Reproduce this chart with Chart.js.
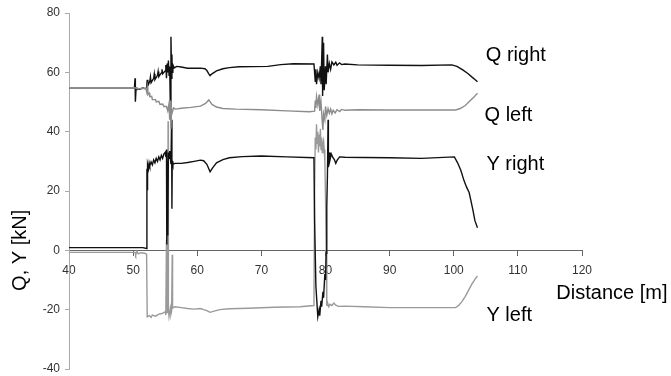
<!DOCTYPE html>
<html>
<head>
<meta charset="utf-8">
<script src="https://cdn.jsdelivr.net/npm/chart.js@4.4.1/dist/chart.umd.min.js"></script>
<style>
  html, body { margin: 0; padding: 0; background: #fff; }
  #wrap { width: 671px; height: 376px; }
</style>
</head>
<body>
<div id="wrap"><canvas id="myChart"></canvas></div>
<script>
// Distance [m] and force [kN]
var qRightX = [40, 50.2, 50.3, 50.35, 50.45, 50.6, 51.0, 51.5, 52.0, 52.1, 52.2, 52.3, 52.6, 52.7, 52.8, 53.2, 53.3, 53.4, 53.8, 53.9, 54.0, 54.4, 54.5, 54.6, 55.0, 55.1, 55.2, 55.3, 55.4, 55.5, 55.6, 55.7, 55.8, 55.9, 56.0, 56.05, 56.1, 56.2, 56.4, 56.8, 57.5, 58.5, 60.5, 61.2, 61.5, 61.8, 62.0, 62.3, 63.0, 64.0, 65.0, 66.5, 71.0, 73.0, 75.0, 78.2, 78.4, 78.5, 78.6, 78.8, 79.0, 79.2, 79.3, 79.5, 79.55, 79.7, 79.8, 80.0, 80.1, 80.3, 80.4, 80.6, 80.8, 81.0, 81.3, 81.6, 81.8, 82.2, 82.5, 83, 85, 90, 95, 99.7, 100.5, 101.4, 102.2, 102.9, 103.3, 103.7];
var qRightY = [54.8, 54.8, 58.0, 50.1, 54.2, 54.6, 54.3, 54.7, 54.5, 54.8, 57.5, 55.5, 57.0, 58.5, 56.5, 58.0, 59.5, 57.5, 59.0, 60.3, 58.5, 59.8, 61.0, 59.5, 60.5, 62.5, 58.0, 63.0, 60.0, 64.0, 59.0, 62.0, 48.5, 72.0, 58.0, 66.0, 60.0, 62.5, 61.5, 62.0, 61.8, 61.4, 61.4, 61.2, 60.6, 59.5, 58.9, 59.5, 60.5, 61.2, 61.6, 61.9, 62.0, 62.6, 62.9, 62.8, 57.0, 61.0, 56.0, 60.0, 58.0, 62.0, 56.0, 72.0, 52.0, 70.0, 54.0, 62.0, 56.0, 66.0, 60.0, 63.0, 61.0, 63.5, 62.5, 63.4, 62.4, 63.2, 62.6, 62.8, 62.5, 62.4, 62.3, 62.5, 62.0, 60.8, 59.6, 58.3, 57.6, 56.8];

var qLeftX = [40, 50.3, 50.5, 51.5, 52.0, 52.1, 52.2, 52.3, 52.5, 52.6, 52.9, 53.0, 53.5, 53.6, 54.0, 54.2, 54.6, 54.8, 55.2, 55.4, 55.6, 55.7, 55.8, 55.9, 56.0, 56.1, 56.3, 56.6, 57.5, 59, 60.5, 61.3, 61.8, 62.3, 63.0, 64, 66, 70, 74, 77.5, 78.3, 78.4, 78.5, 78.6, 78.8, 79.0, 79.1, 79.3, 79.5, 79.6, 79.7, 79.9, 80.0, 80.2, 80.4, 80.6, 80.8, 81.0, 81.2, 81.5, 81.8, 82.2, 82.5, 83, 85, 90, 95, 100.3, 101, 101.8, 102.5, 103.2, 103.7];
var qLeftY = [54.8, 54.8, 54.5, 54.6, 54.5, 53.5, 55.0, 52.5, 53.0, 51.8, 51.9, 50.8, 50.8, 50.0, 50.2, 49.2, 49.3, 48.5, 48.5, 47.0, 49.5, 44.0, 50.5, 41.0, 47.5, 46.5, 48.0, 47.6, 47.9, 48.2, 48.6, 49.5, 50.7, 49.2, 48.3, 47.8, 47.6, 47.4, 47.0, 46.7, 46.9, 50.5, 48.0, 51.8, 49.0, 52.5, 47.0, 50.0, 43.0, 40.6, 46.0, 44.0, 48.5, 45.5, 47.8, 46.2, 47.6, 46.0, 47.2, 46.3, 47.4, 46.8, 47.5, 47.2, 47.4, 47.3, 47.3, 47.3, 47.8, 48.8, 50.3, 51.8, 53.0];

var yRightX = [40, 51.5, 52.1, 52.15, 52.2, 52.25, 52.4, 52.5, 52.6, 52.8, 53.0, 53.2, 53.4, 53.6, 53.8, 54.0, 54.2, 54.4, 54.6, 54.8, 55.0, 55.1, 55.2, 55.25, 55.3, 55.4, 55.5, 55.6, 55.7, 55.9, 56.0, 56.05, 56.1, 56.2, 56.5, 57.5, 58.5, 59.5, 60.5, 61.0, 61.5, 62.0, 62.4, 63.0, 64.0, 65.0, 67, 70, 74, 78.2, 78.3, 78.5, 78.8, 79.0, 79.1, 79.3, 79.4, 79.6, 79.7, 79.9, 80.0, 80.1, 80.2, 80.3, 80.4, 80.45, 80.6, 80.7, 80.9, 81.1, 81.4, 81.6, 81.8, 82.2, 83, 86, 90, 95, 100.1, 100.6, 101.1, 101.6, 102.0, 102.4, 102.7, 103.0, 103.3, 103.7];
var yRightY = [0.9, 0.9, 0.6, 27.5, 20.5, 29.0, 27.5, 29.5, 28.5, 29.8, 28.8, 30.5, 29.5, 31.0, 30.0, 31.5, 30.5, 32.0, 31.0, 32.5, 33.0, 31.5, 34.0, 2.0, 30.0, 5.0, 33.0, 31.0, 33.5, 29.0, 44.0, 14.0, 30.0, 29.0, 29.3, 29.3, 29.6, 30.0, 30.4, 30.2, 29.0, 26.5, 27.8, 29.5, 30.6, 31.2, 31.6, 31.8, 31.5, 31.2, 10.0, -12.0, -22.4, -20.0, -22.0, -17.0, -19.0, -14.0, -16.0, -8.0, -10.0, -1.0, 15.0, 25.0, 44.0, 28.0, 33.0, 30.5, 32.5, 31.5, 30.5, 29.3, 30.3, 31.5, 31.4, 31.3, 31.2, 31.0, 31.5, 29.5, 27.0, 23.5, 21.3, 19.5, 16.5, 13.5, 10.0, 7.6];

var yLeftX = [40, 50.3, 50.4, 50.6, 50.8, 51.2, 51.8, 52.1, 52.2, 52.5, 52.8, 53.0, 53.5, 54.0, 54.5, 55.0, 55.1, 55.2, 55.3, 55.4, 55.45, 55.5, 55.6, 55.8, 55.9, 56.0, 56.1, 56.15, 56.5, 57.5, 58.5, 59.5, 60.5, 61.0, 61.5, 62.0, 62.5, 63.5, 65, 68, 72, 76, 78.2, 78.3, 78.4, 78.5, 78.6, 78.7, 78.8, 78.9, 79.0, 79.1, 79.2, 79.3, 79.4, 79.5, 79.6, 79.7, 79.8, 79.9, 80.0, 80.1, 80.2, 80.3, 80.5, 80.7, 81.0, 81.3, 81.6, 82, 83, 86, 90, 95, 100.3, 100.8, 101.3, 101.8, 102.3, 102.8, 103.3, 103.7];
var yLeftY = [-0.7, -0.7, -1.5, -0.3, -1.2, -0.8, -1.0, -1.3, -22.4, -22.0, -22.6, -21.8, -22.2, -21.5, -21.3, -20.7, -21.8, 3.5, -21.0, 2.5, 43.5, -20.0, -22.3, -19.5, -21.5, -20.5, -1.5, -19.5, -19.0, -19.3, -19.6, -19.8, -19.6, -20.0, -20.3, -20.9, -20.6, -20.0, -19.7, -19.5, -19.2, -19.0, -18.6, 20.0, 38.0, 34.0, 42.5, 36.0, 40.0, 33.0, 39.0, 35.0, 41.0, 34.0, 38.0, 33.0, 36.0, 37.0, 34.0, 30.0, 18.0, 0.0, -18.8, -17.5, -19.0, -18.2, -18.6, -17.8, -18.5, -18.9, -18.8, -19.0, -19.3, -19.3, -19.3, -18.5, -17.2, -15.5, -13.5, -11.5, -9.8, -8.6];

var xTicks = [40, 50, 60, 70, 80, 90, 100, 110, 120];
var yTicks = [-40, -20, 0, 20, 40, 60, 80];

var curveLabels = ['Q right', 'Q left', 'Y right', 'Y left', 'Distance [m]'];
var yTitle = 'Q, Y [kN]';

function toPoints(xs, ys) {
    return xs.map(function (v, i) { return { x: v, y: ys[i] }; });
}

// labels placed in data units
var labelSpots = [
    { x: 105.0, y: 65.8 },
    { x: 104.8, y: 45.6 },
    { x: 105.1, y: 28.8 },
    { x: 105.1, y: -22.1 },
    { x: 116.0, y: -14.7 }
];

var textPlugin = {
    id: 'textPlugin',
    afterDraw: function (chart) {
        var ctx = chart.ctx;
        var xs = chart.scales.x, ys = chart.scales.y;
        ctx.save();
        ctx.font = '20px "Liberation Sans", Arial, sans-serif';
        ctx.fillStyle = '#000';
        ctx.textBaseline = 'middle';
        ctx.textAlign = 'left';
        curveLabels.forEach(function (t, i) {
            ctx.fillText(t, xs.getPixelForValue(labelSpots[i].x), ys.getPixelForValue(labelSpots[i].y));
        });
        ctx.translate(xs.left - 49, ys.getPixelForValue(0));
        ctx.rotate(-Math.PI / 2);
        ctx.textAlign = 'center';
        ctx.fillText(yTitle, 0, 0);
        ctx.restore();
    }
};

var lineStyle = {
    borderWidth: 1.4,
    pointRadius: 0,
    fill: false,
    tension: 0
};

var ctx1 = document.getElementById('myChart').getContext('2d');
var myChart = new Chart(ctx1, {
    type: 'line',
    data: {
        datasets: [
            Object.assign({ label: 'Q left', data: toPoints(qLeftX, qLeftY), borderColor: '#8c8c8c' }, lineStyle),
            Object.assign({ label: 'Q right', data: toPoints(qRightX, qRightY), borderColor: '#111' }, lineStyle),
            Object.assign({ label: 'Y right', data: toPoints(yRightX, yRightY), borderColor: '#111' }, lineStyle),
            Object.assign({ label: 'Y left', data: toPoints(yLeftX, yLeftY), borderColor: '#9a9a9a' }, lineStyle)
        ]
    },
    options: {
        responsive: true,
        maintainAspectRatio: false,
        animation: false,
        layout: { padding: { left: 0, right: 89, top: 13, bottom: 7 } },
        plugins: {
            legend: { display: false },
            tooltip: { enabled: false }
        },
        scales: {
            x: {
                type: 'linear',
                position: { y: 0 },
                min: 40,
                max: 120,
                afterBuildTicks: function (s) { s.ticks = xTicks.map(function (v) { return { value: v }; }); },
                ticks: { color: '#333', font: { family: 'Liberation Sans', size: 12 }, padding: 8, maxRotation: 0 },
                grid: { drawOnChartArea: false, drawTicks: true, tickLength: 5, color: '#666' },
                border: { color: '#666' }
            },
            y: {
                type: 'linear',
                min: -40,
                max: 80,
                afterBuildTicks: function (s) { s.ticks = yTicks.map(function (v) { return { value: v }; }); },
                afterFit: function (s) { s.width = 69; s.paddingTop = 0; s.paddingBottom = 0; },
                ticks: { color: '#333', font: { family: 'Liberation Sans', size: 12 }, padding: 5 },
                grid: { drawOnChartArea: false, drawTicks: true, tickLength: 4, color: '#aaa' },
                border: { color: '#aaa' }
            }
        }
    },
    plugins: [textPlugin]
});
</script>
</body>
</html>
